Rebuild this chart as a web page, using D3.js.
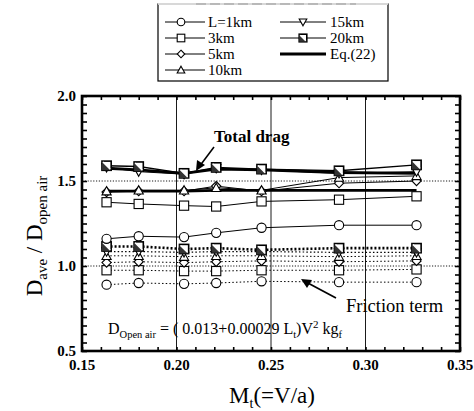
<!DOCTYPE html>
<html>
<head>
<meta charset="utf-8">
<script src="https://cdn.jsdelivr.net/npm/d3@7"></script>
<style>
  body { margin: 0; background: #fff; }
  text { font-family: "Liberation Serif", "DejaVu Serif", serif; fill: #000; }
</style>
</head>
<body>
<svg id="chart" width="474" height="411"></svg>
<script>
// Mach numbers M_t = V/a (V = 200 ... 400 km/h)
const mach = [0.163, 0.180, 0.204, 0.221, 0.245, 0.286, 0.327];

const xTickValues = [0.15, 0.20, 0.25, 0.30, 0.35];
const yTickValues = [0.5, 1.0, 1.5, 2.0];

// Total drag ratio, one array per tunnel length
const total1km  = [1.16, 1.175, 1.17, 1.195, 1.225, 1.24, 1.24];
const total3km  = [1.375, 1.365, 1.355, 1.35, 1.38, 1.39, 1.41];
const total5km  = [1.435, 1.44, 1.44, 1.47, 1.44, 1.487, 1.50];
const total10km = [1.44, 1.445, 1.445, 1.46, 1.445, 1.52, 1.53];
const total15km = [1.58, 1.555, 1.54, 1.575, 1.565, 1.545, 1.555];
const total20km = [1.59, 1.585, 1.545, 1.58, 1.57, 1.56, 1.595];

// Friction term ratio
const fric1km  = [0.89, 0.90, 0.895, 0.90, 0.91, 0.905, 0.905];
const fric3km  = [0.975, 0.975, 0.97, 0.97, 0.975, 0.975, 0.98];
const fric5km  = [1.02, 1.025, 1.02, 1.025, 1.03, 1.025, 1.03];
const fric10km = [1.06, 1.06, 1.055, 1.06, 1.06, 1.055, 1.06];
const fric15km = [1.085, 1.085, 1.08, 1.085, 1.085, 1.08, 1.08];
const fric20km = [1.115, 1.115, 1.10, 1.105, 1.095, 1.105, 1.105];

// Eq.(22) predictions
const eqHigh = [1.575, 1.565, 1.545, 1.57, 1.565, 1.55, 1.545];
const eqLow  = [1.44, 1.44, 1.44, 1.445, 1.445, 1.445, 1.445];

const legendLabels = ["L=1km", "3km", "5km", "10km", "15km", "20km", "Eq.(22)"];

const svg = d3.select("#chart");
const plotLeft = 82, plotRight = 460, plotTop = 96, plotBottom = 351;

const x = d3.scaleLinear().domain([0.15, 0.35]).range([plotLeft, plotRight]);
const y = d3.scaleLinear().domain([0.5, 2.0]).range([plotBottom, plotTop]);

// grid: solid verticals, dotted horizontals
svg.append("g").selectAll("line").data([0.20, 0.25, 0.30]).join("line")
  .attr("x1", d => x(d)).attr("x2", d => x(d))
  .attr("y1", plotTop).attr("y2", plotBottom)
  .attr("stroke", "#000").attr("stroke-width", 0.9);
svg.append("g").selectAll("line").data([1.0, 1.5]).join("line")
  .attr("x1", plotLeft).attr("x2", plotRight)
  .attr("y1", d => y(d)).attr("y2", d => y(d))
  .attr("stroke", "#000").attr("stroke-width", 0.9)
  .attr("stroke-dasharray", "1.2,1.6");

// axes with inward ticks
const xMinor = d3.range(0.15, 0.3501, 0.01);
const yMinor = d3.range(0.5, 2.0001, 0.05);
svg.append("g").attr("transform", `translate(0,${plotBottom})`)
  .call(d3.axisTop(x).tickValues(xMinor).tickSize(4).tickFormat(""));
svg.append("g").attr("transform", `translate(0,${plotTop})`)
  .call(d3.axisBottom(x).tickValues(xMinor).tickSize(4).tickFormat(""));
svg.append("g").attr("transform", `translate(${plotLeft},0)`)
  .call(d3.axisRight(y).tickValues(yMinor).tickSize(5).tickFormat(""));
svg.append("g").attr("transform", `translate(${plotRight},0)`)
  .call(d3.axisLeft(y).tickValues(yMinor).tickSize(5).tickFormat(""));
svg.selectAll(".domain").remove();
svg.selectAll(".tick line").attr("stroke", "#000").attr("stroke-width", 1.6);

// frame
svg.append("rect").attr("x", plotLeft).attr("y", plotTop)
  .attr("width", plotRight - plotLeft).attr("height", plotBottom - plotTop)
  .attr("fill", "none").attr("stroke", "#000").attr("stroke-width", 2.6);

// tick labels
svg.append("g").selectAll("text").data(xTickValues).join("text")
  .attr("x", d => x(d)).attr("y", plotBottom + 19)
  .attr("text-anchor", "middle").attr("font-size", 15).attr("font-weight", "bold")
  .text(d => d.toFixed(2));
svg.append("g").selectAll("text").data(yTickValues).join("text")
  .attr("x", plotLeft - 6).attr("y", d => y(d) + 5)
  .attr("text-anchor", "end").attr("font-size", 15).attr("font-weight", "bold")
  .text(d => d.toFixed(1));

// markers
function drawMarker(g, kind, cx, cy, s) {
  s = s || 4.6;
  if (kind === "circle") {
    g.append("circle").attr("cx", cx).attr("cy", cy).attr("r", s)
      .attr("fill", "#fff").attr("stroke", "#000").attr("stroke-width", 1.1);
  } else if (kind === "square") {
    g.append("rect").attr("x", cx - s).attr("y", cy - s).attr("width", 2 * s).attr("height", 2 * s)
      .attr("fill", "#fff").attr("stroke", "#000").attr("stroke-width", 1.1);
  } else if (kind === "diamond") {
    g.append("path").attr("d", `M${cx},${cy - s}L${cx + s},${cy}L${cx},${cy + s}L${cx - s},${cy}Z`)
      .attr("fill", "#fff").attr("stroke", "#000").attr("stroke-width", 1.1);
  } else if (kind === "tri-up") {
    g.append("path").attr("d", `M${cx},${cy - s}L${cx + s},${cy + s * 0.8}L${cx - s},${cy + s * 0.8}Z`)
      .attr("fill", "#fff").attr("stroke", "#000").attr("stroke-width", 1.1);
  } else if (kind === "tri-down") {
    g.append("path").attr("d", `M${cx},${cy + s}L${cx + s},${cy - s * 0.8}L${cx - s},${cy - s * 0.8}Z`)
      .attr("fill", "#fff").attr("stroke", "#000").attr("stroke-width", 1.1);
  } else if (kind === "hatch") {
    g.append("rect").attr("x", cx - s).attr("y", cy - s).attr("width", 2 * s).attr("height", 2 * s)
      .attr("fill", "#fff").attr("stroke", "#000").attr("stroke-width", 1.6);
    g.append("path").attr("d", `M${cx - s},${cy - s}L${cx + s},${cy + s}L${cx - s},${cy + s}Z`)
      .attr("fill", "#333");
    g.append("line").attr("x1", cx - s + 1).attr("y1", cy - s + 1).attr("x2", cx + s - 1).attr("y2", cy + s - 1)
      .attr("stroke", "#fff").attr("stroke-width", 1.4);
  }
}

const line = d3.line().x((d, i) => x(mach[i])).y(d => y(d));

function series(values, kind, width, dash) {
  const g = svg.append("g");
  g.append("path").attr("d", line(values)).attr("fill", "none")
    .attr("stroke", "#000").attr("stroke-width", width)
    .attr("stroke-dasharray", dash || null);
  if (kind) values.forEach((v, i) => drawMarker(g, kind, x(mach[i]), y(v)));
}

// friction term (dotted)
series(fric1km, "circle", 1, "1.5,2.2");
series(fric3km, "square", 1, "1.5,2.2");
series(fric5km, "diamond", 1, "1.5,2.2");
series(fric10km, "tri-up", 1, "1.5,2.2");
series(fric15km, "tri-down", 1.2, "1.5,2.2");
series(fric20km, "hatch", 2.6, "2,2");

// Eq.(22)
series(eqLow, null, 2.8);
series(eqHigh, null, 2.8);

// total drag (solid)
series(total1km, "circle", 1);
series(total3km, "square", 1);
series(total5km, "diamond", 1);
series(total10km, "tri-up", 1);
series(total15km, "tri-down", 1);
series(total20km, "hatch", 1.4);

// legend box (faint scanned top edge, solid right edge)
const lg = svg.append("g");
lg.append("rect").attr("x", 158).attr("y", 4).attr("width", 230).attr("height", 77)
  .attr("fill", "#fff").attr("stroke", "#000").attr("stroke-width", 1.2);
lg.append("line").attr("x1", 158).attr("x2", 388).attr("y1", 4).attr("y2", 4)
  .attr("stroke", "#fff").attr("stroke-width", 1.6);
lg.append("line").attr("x1", 196).attr("x2", 356).attr("y1", 4).attr("y2", 4)
  .attr("stroke", "#999").attr("stroke-width", 1).attr("stroke-dasharray", "10,4");
const legendKinds = ["circle", "square", "diamond", "tri-up", "tri-down", "hatch", null];
legendLabels.forEach((lab, i) => {
  const col = i < 4 ? 0 : 1;
  const row = i < 4 ? i : i - 4;
  const ly = 22 + row * 16;
  const x0 = col === 0 ? 165 : 280;
  const x1 = col === 0 ? 205 : 326;
  const mx = col === 0 ? 181 : 303;
  lg.append("line").attr("x1", x0).attr("x2", x1).attr("y1", ly).attr("y2", ly)
    .attr("stroke", "#000").attr("stroke-width", legendKinds[i] ? 1 : 2.8);
  if (legendKinds[i]) drawMarker(lg.append("g"), legendKinds[i], mx, ly, 3.8);
  lg.append("text").attr("x", col === 0 ? 208 : 330).attr("y", ly + 5).attr("font-size", 15).text(lab);
});

// annotations
svg.append("text").attr("x", 214).attr("y", 142).attr("font-size", 17).attr("font-weight", "bold")
  .text("Total drag");
svg.append("path").attr("d", "M214,147 L199,167").attr("stroke", "#000").attr("stroke-width", 1.6);
svg.append("path").attr("d", "M196,171 L197,160 L205,165 Z").attr("fill", "#000");

svg.append("text").attr("x", 346).attr("y", 312).attr("font-size", 18.5).text("Friction term");
svg.append("path").attr("d", "M336,298 L306,282").attr("stroke", "#000").attr("stroke-width", 1.6);
svg.append("path").attr("d", "M301,279 L312,280 L307,288 Z").attr("fill", "#000");

const f = svg.append("text").attr("x", 108).attr("y", 334).attr("font-size", 16);
f.append("tspan").text("D");
f.append("tspan").attr("font-size", 10.5).attr("dy", 4).text("Open air");
f.append("tspan").attr("dy", -4).text(" = ( 0.013+0.00029 L");
f.append("tspan").attr("font-size", 10.5).attr("dy", 4).text("t");
f.append("tspan").attr("dy", -4).text(")V");
f.append("tspan").attr("font-size", 11).attr("dy", -6).text("2");
f.append("tspan").attr("dy", 6).text("  kg");
f.append("tspan").attr("font-size", 10.5).attr("dy", 4).text("f");

// axis titles
const xt = svg.append("text").attr("x", 272).attr("y", 403).attr("text-anchor", "middle").attr("font-size", 23);
xt.append("tspan").text("M");
xt.append("tspan").attr("font-size", 14).attr("dy", 5).text("t");
xt.append("tspan").attr("dy", -5).text("(=V/a)");

const yt = svg.append("text").attr("transform", "translate(42,236) rotate(-90)")
  .attr("text-anchor", "middle").attr("font-size", 23);
yt.append("tspan").text("D");
yt.append("tspan").attr("font-size", 15).attr("dy", 5).text("ave");
yt.append("tspan").attr("dy", -5).text(" / D");
yt.append("tspan").attr("font-size", 15).attr("dy", 5).text("open air");
</script>
</body>
</html>
